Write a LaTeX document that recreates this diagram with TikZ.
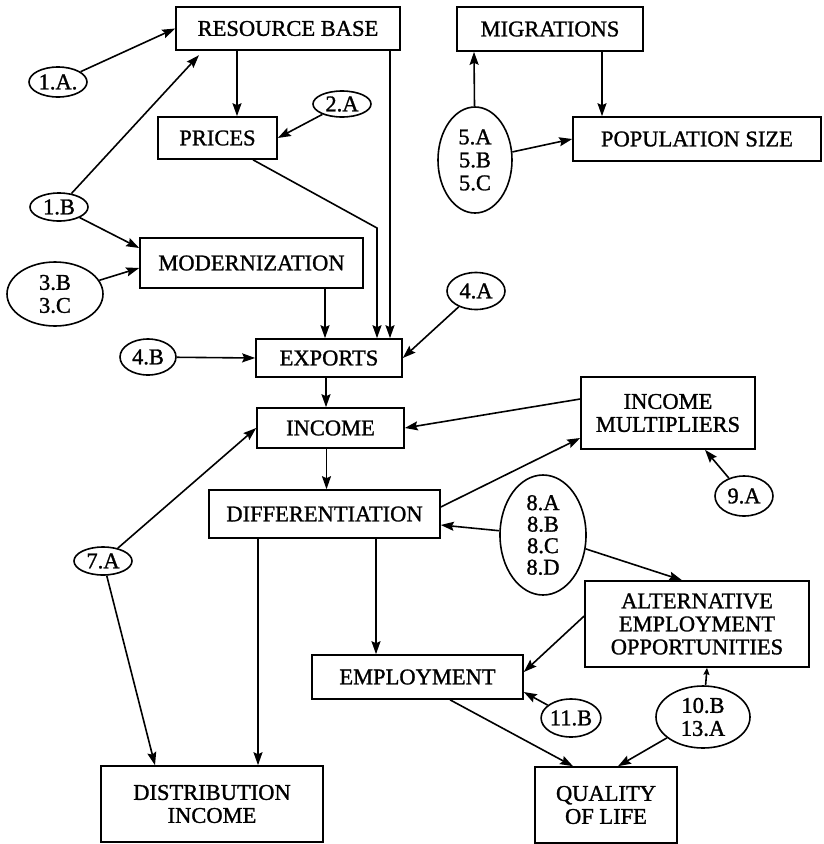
\documentclass[tikz,border=0pt]{standalone}
\usepackage{fontspec}
\setmainfont{Liberation Serif}[FakeBold=1.2]
\usetikzlibrary{arrows.meta,shapes.geometric}
\begin{document}
\begin{tikzpicture}[x=1pt,y=-1pt,
  every node/.style={font=\fontsize{22.5}{23}\selectfont, align=center, inner sep=0pt},
  box/.style={draw, line width=1.6pt, rectangle},
  tag/.style={draw, line width=1.6pt, ellipse},
  link/.style={line width=1.6pt, -{Stealth[length=13pt,width=9pt,inset=2pt]}},
  smalltip/.style={line width=1.6pt, -{Stealth[length=7pt,width=6pt,inset=1pt]}}]
\useasboundingbox (0,0) rectangle (823,844);

% boxes
\node[box, minimum width=224pt, minimum height=43pt] (rb)   at (288,28.5) {RESOURCE BASE};
\node[box, minimum width=119pt, minimum height=42pt] (pr)   at (217.5,138) {PRICES};
\node[box, minimum width=223pt, minimum height=50pt] (mod)  at (251.5,263) {MODERNIZATION};
\node[box, minimum width=146pt, minimum height=38pt] (exp)  at (329,358) {EXPORTS};
\node[box, minimum width=147pt, minimum height=40pt] (inc)  at (330.5,428) {INCOME};
\node[box, minimum width=174pt, minimum height=72pt] (im)   at (668,413) {INCOME\\MULTIPLIERS};
\node[box, minimum width=231pt, minimum height=48pt] (dif)  at (324.5,514) {DIFFERENTIATION};
\node[box, minimum width=222pt, minimum height=76pt] (dist) at (212,804) {DISTRIBUTION\\INCOME};
\node[box, minimum width=211pt, minimum height=44pt] (emp)  at (417.5,677) {EMPLOYMENT};
\node[box, minimum width=224pt, minimum height=86pt] (alt)  at (697,624) {ALTERNATIVE\\EMPLOYMENT\\OPPORTUNITIES};
\node[box, minimum width=142pt, minimum height=76pt] (qol)  at (606,805) {QUALITY\\OF LIFE};
\node[box, minimum width=186pt, minimum height=44pt] (mig)  at (550,29) {MIGRATIONS};
\node[box, minimum width=248pt, minimum height=44pt] (pop)  at (697,139) {POPULATION SIZE};

% source tags
\node[tag, minimum width=58pt, minimum height=30pt] (e1A)  at (58,82) {1.A.};
\node[tag, minimum width=58pt, minimum height=26pt] (e2A)  at (342,104) {2.A};
\node[tag, minimum width=58pt, minimum height=28pt] (e1B)  at (59,207) {1.B};
\node[tag, minimum width=96pt, minimum height=64pt] (e3B)  at (55,294) {3.B\\3.C};
\node[tag, minimum width=56pt, minimum height=36pt] (e4B)  at (148,357) {4.B};
\node[tag, minimum width=58pt, minimum height=37pt] (e4A)  at (476,291) {4.A};
\node[tag, minimum width=74pt, minimum height=106pt] (e5)  at (475,160) {5.A\\5.B\\5.C};
\node[tag, minimum width=58pt, minimum height=28pt] (e7A)  at (103,561) {7.A};
\node[tag, minimum width=86pt, minimum height=120pt, font=\fontsize{22.5}{21.5}\selectfont] (e8) at (543,535) {8.A\\8.B\\8.C\\8.D};
\node[tag, minimum width=58pt, minimum height=40pt] (e9A)  at (744,496) {9.A};
\node[tag, minimum width=53pt, minimum height=38pt] (e11B) at (571,718) {11.B};
\node[tag, minimum width=94pt, minimum height=62pt] (e10B) at (703,717) {10.B\\13.A};

% helper points for vertical runs
\coordinate (rbL) at ([xshift=-51pt]rb.south);
\coordinate (rbR) at ([xshift=102pt]rb.south);
\coordinate (prR) at ([xshift=35.5pt]pr.south);
\coordinate (bend) at (377,228);
\coordinate (modR) at ([xshift=73.5pt]mod.south);
\coordinate (difL) at ([xshift=-66.5pt]dif.south);
\coordinate (difR) at ([xshift=51.5pt]dif.south);
\coordinate (migL) at ([xshift=-76pt]mig.south);
\coordinate (migR) at ([xshift=52pt]mig.south);

% connectors
\draw[link] (e1A) -- (rb.west);
\draw[link, shorten >=6pt] (e1B) -- ([xshift=-85pt]rb.south);
\draw[link] (e1B) -- ([yshift=15pt]mod.west);
\draw[link] (e3B) -- ([yshift=-5pt]mod.west);
\draw[link] (rbL) -- (rbL |- pr.north);
\draw[link] (e2A) -- (pr.east);
\draw[link] (prR) -- (bend) -- (bend |- exp.north);
\draw[link] (rbR) -- (rbR |- exp.north);
\draw[link] (modR) -- (modR |- exp.north);
\draw[link] (e4B) -- (exp.west);
\draw[link] (e4A) -- (exp.east);
\draw[link] ([xshift=-3pt]exp.south) -- ([xshift=-3pt]exp.south |- inc.north);
\draw[link] ([yshift=14pt]im.west) -- (inc.east);
\draw[link] ([xshift=-4pt]inc.south) -- ([xshift=-4pt]inc.south |- dif.north);
\draw[link] ([yshift=7pt]dif.east) -- ([yshift=-25pt]im.west);
\draw[link] (e8) -- ([yshift=-11pt]dif.east);
\draw[link] (e8) -- ([xshift=-15pt]alt.north);
\draw[link] (e9A) -- ([xshift=37pt]im.south);
\draw[link] (e7A) -- (inc.west);
\draw[link] (e7A) -- ([xshift=-57pt]dist.north);
\draw[link] (difL) -- (difL |- dist.north);
\draw[link] (difR) -- (difR |- emp.north);
\draw[link] ([yshift=8pt]alt.west) -- ([yshift=5pt]emp.east);
\draw[link] (e11B) -- ([yshift=-15pt]emp.east);
\draw[smalltip] (e10B) -- ([xshift=10pt]alt.south);
\draw[link] (e10B) -- ([xshift=12pt]qol.north);
\draw[link] ([xshift=32.5pt]emp.south) -- ([xshift=-33pt]qol.north);
\draw[link] (e5) -- (migL);
\draw[link] (migR) -- (migR |- pop.north);
\draw[link] (e5) -- (pop.west);
\end{tikzpicture}
\end{document}
